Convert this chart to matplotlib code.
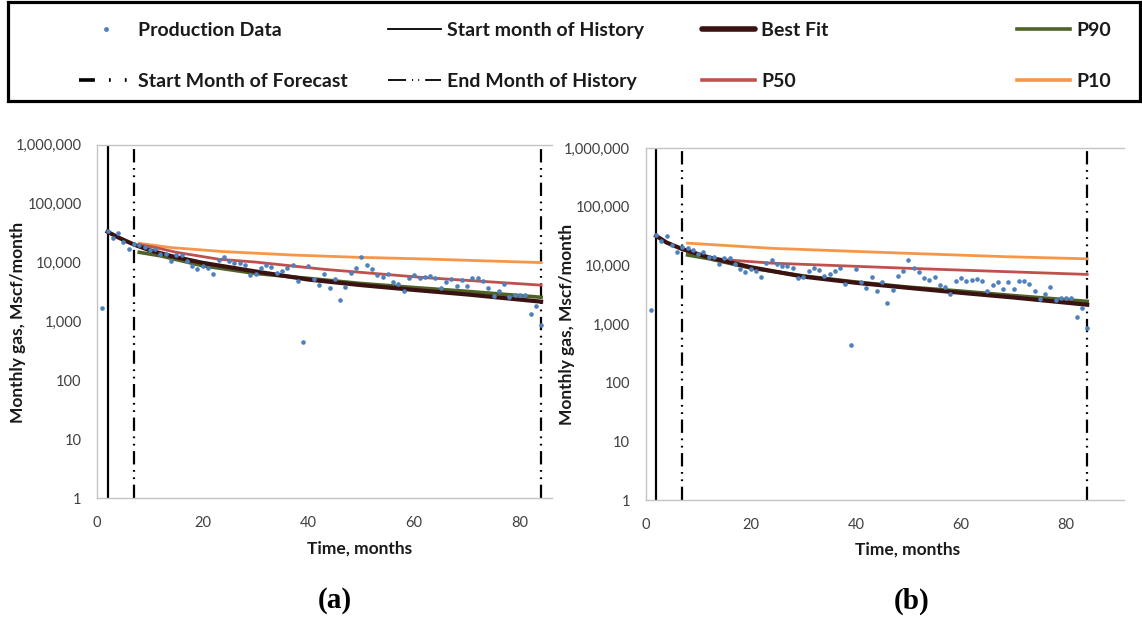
import matplotlib
matplotlib.use("Agg")
import matplotlib.pyplot as plt
from matplotlib.lines import Line2D
from matplotlib.patches import Rectangle
from matplotlib.ticker import FuncFormatter, FixedLocator, NullLocator

# ---------------- data ----------------
months = list(range(1, 85))
production = [1700, 33500, 25700, 31300, 22500, 16600, 20300, 19800, 18300, 15900,
              16600, 14100, 14100, 10400, 13300, 13500, 10400, 8650, 7800, 8750,
              8100, 6300, 10800, 12200, 10500, 9800, 9800, 8950, 6000, 6300,
              8100, 8950, 8400, 6650, 7000, 8000, 8950, 4870, 440, 8500,
              5190, 4050, 6300, 3640, 5190, 2300, 3850, 6650, 8000, 12200,
              8900, 7800, 6150, 5690, 6300, 4580, 4330, 3280, 5480, 6150,
              5480, 5550, 5900, 5400, 3700, 4580, 5190, 3900, 5100, 3900,
              5480, 5400, 4800, 3640, 2700, 3300, 4330, 2550, 2800, 2750,
              2800, 1320, 1840, 870]

history_start = 2
forecast_start = 7
history_end = 84

# panel (a)
best_months_a = [2, 4, 7, 10, 14, 20, 30, 40, 50, 60, 70, 84]
best_fit_a = [33000, 26500, 20000, 16000, 12800, 9800, 7000, 5100, 4100, 3400, 2850, 2150]
p90_months_a = [8, 12, 20, 30, 40, 50, 60, 70, 84]
p90_a = [14800, 12900, 8750, 6480, 5340, 4370, 3730, 3220, 2550]
p50_months_a = [8, 11, 15, 23, 30, 43, 62, 84]
p50_a = [20000, 17900, 14800, 11300, 10100, 7600, 5500, 4100]
p10_months_a = [8, 14, 24, 37, 49, 62, 84]
p10_a = [21000, 17800, 15200, 13300, 12200, 11400, 9900]

# panel (b)
best_months_b = [2, 4, 7, 12, 20, 30, 40, 50, 60, 70, 84]
best_fit_b = [31900, 24500, 18900, 13700, 9300, 6420, 5040, 4130, 3400, 2830, 2130]
p90_months_b = [8, 12, 20, 30, 40, 50, 60, 70, 84]
p90_b = [15000, 13000, 9000, 6600, 5200, 4250, 3640, 3050, 2430]
p50_months_b = [8, 12, 16, 24, 50, 69, 84]
p50_b = [15700, 13500, 12300, 10900, 8900, 7780, 7000]
p10_months_b = [8, 24, 50, 69, 84]
p10_b = [23900, 19500, 16000, 14000, 12900]

x_ticks = [0, 20, 40, 60, 80]
y_ticks = [1, 10, 100, 1000, 10000, 100000, 1000000]

# ---------------- style ----------------
C_DATA = "#4f81bd"
C_BEST = "#3a1212"
C_P90 = "#4f6228"
C_P50 = "#c0504d"
C_P10 = "#f79646"
SANS = "Lato"
SERIF = "Liberation Serif"
DASH_DOT_DOT = (0, (6, 2.5, 0.8, 2.5, 0.8, 2.5))

W, H = 1142, 617
fig = plt.figure(figsize=(W / 100, H / 100), dpi=100)


def fx(px):
    return px / W


def fy(py):
    return 1 - py / H


def panel(rect, xmax, bm, bv, m90, v90, m50, v50, m10, v10):
    l, t, r, b = rect
    ax = fig.add_axes([fx(l), fy(b), fx(r - l), (b - t) / H])
    ax.set_yscale("log")
    ax.set_ylim(1, 1e6)
    ax.set_xlim(0, xmax)
    ax.axvline(history_start, color="black", lw=1.6, zorder=2)
    ax.axvline(forecast_start, color="black", lw=1.6, linestyle=DASH_DOT_DOT, zorder=2)
    ax.axvline(history_end, color="black", lw=1.6, linestyle=DASH_DOT_DOT, zorder=2)
    ax.plot(m10, v10, color=C_P10, lw=2.0, zorder=3)
    ax.plot(m50, v50, color=C_P50, lw=2.0, zorder=3)
    ax.plot(m90, v90, color=C_P90, lw=2.6, zorder=3)
    ax.plot(bm, bv, color=C_BEST, lw=3.0, zorder=4)
    ax.scatter(months, production, s=11, color=C_DATA, linewidths=0, zorder=5)
    for s in ("left", "bottom", "top"):
        ax.spines[s].set_color("#c4c4c4")
        ax.spines[s].set_linewidth(1.0)
    ax.spines["right"].set_visible(False)
    ax.xaxis.set_major_locator(FixedLocator(x_ticks))
    ax.yaxis.set_major_locator(FixedLocator(y_ticks))
    ax.yaxis.set_minor_locator(NullLocator())
    ax.yaxis.set_major_formatter(FuncFormatter(lambda v, p: f"{v:,.0f}"))
    ax.tick_params(axis="both", length=0, labelsize=10.5, labelcolor="#404040")
    ax.tick_params(axis="x", pad=13)
    ax.tick_params(axis="y", pad=11)
    for lab in ax.get_xticklabels() + ax.get_yticklabels():
        lab.set_fontfamily(SANS)
    return ax


ax_a = panel((97, 144.5, 551.7, 498), 86, best_months_a, best_fit_a,
             p90_months_a, p90_a, p50_months_a, p50_a, p10_months_a, p10_a)
ax_b = panel((645.5, 148, 1124, 500), 91, best_months_b, best_fit_b,
             p90_months_b, p90_b, p50_months_b, p50_b, p10_months_b, p10_b)

# axis titles
lab_kw = dict(fontfamily=SANS, fontweight="bold", fontsize=12.5, color="#1a1a1a",
              ha="center", va="center")
fig.text(fx(18), fy(322), "Monthly gas, Mscf/month", rotation=90, **lab_kw)
fig.text(fx(567), fy(324), "Monthly gas, Mscf/month", rotation=90, **lab_kw)
fig.text(fx(360), fy(549), "Time, months", **lab_kw)
fig.text(fx(908), fy(550), "Time, months", **lab_kw)

# panel captions
cap_kw = dict(fontfamily=SERIF, fontweight="bold", fontsize=21, color="black",
              ha="center", va="center")
fig.text(fx(335), fy(601), "(a)", **cap_kw)
fig.text(fx(912), fy(601), "(b)", **cap_kw)

# legend (four columns)
h_prod = Line2D([], [], linestyle="none", marker="o", markersize=3.5,
                color=C_DATA, markeredgewidth=0)
h_fc = Line2D([], [], color="black", lw=2.6, dash_capstyle="butt",
              linestyle=(0, (4.4, 3.9, 0.5, 3.9, 0.5, 12)))
h_hs = Line2D([], [], color="black", lw=1.3)
h_he = Line2D([], [], color="black", lw=1.3, dash_capstyle="butt",
              linestyle=(0, (10, 3.3, 0.6, 2.8, 0.6, 3.3)))
h_best = Line2D([], [], color=C_BEST, lw=4.0, solid_capstyle="round")
h_p50 = Line2D([], [], color=C_P50, lw=2.6)
h_p90 = Line2D([], [], color=C_P90, lw=2.6)
h_p10 = Line2D([], [], color=C_P10, lw=2.6)

columns = [
    (79, [h_prod, h_fc], ["Production Data", "Start Month of Forecast"]),
    (388, [h_hs, h_he], ["Start month of History", "End Month of History"]),
    (702, [h_best, h_p50], ["Best Fit", "P50"]),
    (1017, [h_p90, h_p10], ["P90", "P10"]),
]
for x0, hs, labels in columns:
    leg = fig.legend(hs, labels, loc="center left", bbox_to_anchor=(fx(x0), fy(56)),
                     frameon=False, ncol=1, handlelength=2.75, handletextpad=0.3,
                     labelspacing=1.72, borderpad=0, borderaxespad=0,
                     prop=dict(family=SANS, weight="bold", size=14))
    for txt in leg.get_texts():
        txt.set_color("#1a1a1a")

fig.add_artist(Rectangle((fx(8), fy(101)), fx(1132), 99 / H, transform=fig.transFigure,
                         fill=False, edgecolor="black", lw=2.3))

fig.savefig("out.png", dpi=100)
